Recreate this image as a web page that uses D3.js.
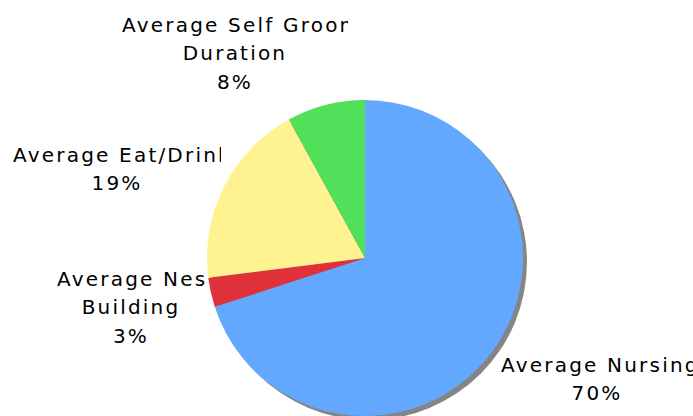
<!DOCTYPE html>
<html>
<head>
<meta charset="utf-8">
<script src="https://cdn.jsdelivr.net/npm/d3@7"></script>
<style>
  html, body { margin: 0; padding: 0; background: #fff; overflow: hidden; }
  svg { display: block; }
  .lbl { font-family: "DejaVu Sans", Verdana, sans-serif; font-size: 20px; letter-spacing: 2.2px; fill: #000; }
</style>
</head>
<body>
<svg id="chart" width="693" height="416"></svg>
<script>
// Activity breakdown (share of time)
const categories = [
  "Average Nursing",
  "Average Nest Building",
  "Average Eat/Drinking",
  "Average Self Grooming Duration"
];
// Lines each category name is broken into inside its label box
const labelLines = [
  ["Average Nursing"],
  ["Average Nest", "Building"],
  ["Average Eat/Drinking"],
  ["Average Self Grooming", "Duration"]
];
const values = [70, 3, 19, 8];
const colors = ["#62a8ff", "#e0303a", "#fff290", "#52e05a"];

// Label boxes: left/right edge (clip) and top baseline
const labelBoxes = [
  { x0: 501, x1: 693, y: 372 },
  { x0: 57,  x1: 205, y: 286 },
  { x0: 13,  x1: 221, y: 162 },
  { x0: 122, x1: 348, y: 32 }
];
const lineHeight = 28.3;

const svg = d3.select("#chart");
const cx = 365, cy = 258, radius = 158;

const total = d3.sum(values);
const pct = d3.format(".0%");

const pie = d3.pie().sort(null).value(d => d)(values);
const arc = d3.arc().innerRadius(0).outerRadius(radius);

// drop shadow
svg.append("circle")
  .attr("cx", cx + 4).attr("cy", cy + 4).attr("r", radius)
  .attr("fill", "#858585");

const g = svg.append("g").attr("transform", `translate(${cx},${cy})`);
g.selectAll("path")
  .data(pie)
  .join("path")
  .attr("d", arc)
  .attr("fill", (d, i) => colors[i]);

// labels
const defs = svg.append("defs");
labelBoxes.forEach((b, i) => {
  const id = "clip" + i;
  defs.append("clipPath").attr("id", id)
    .append("rect")
    .attr("x", b.x0).attr("y", 0)
    .attr("width", b.x1 - b.x0).attr("height", 416);

  const lg = svg.append("g").attr("clip-path", `url(#${id})`);
  const lines = labelLines[i].concat([pct(values[i] / total)]);
  const mid = (b.x0 + b.x1) / 2;
  lines.forEach((ln, k) => {
    const t = lg.append("text")
      .attr("class", "lbl")
      .attr("y", b.y + k * lineHeight)
      .text(ln);
    const w = t.node().getComputedTextLength();
    if (w > b.x1 - b.x0) {
      t.attr("x", b.x0).attr("text-anchor", "start");
    } else {
      t.attr("x", mid).attr("text-anchor", "middle");
    }
  });
});
</script>
</body>
</html>
